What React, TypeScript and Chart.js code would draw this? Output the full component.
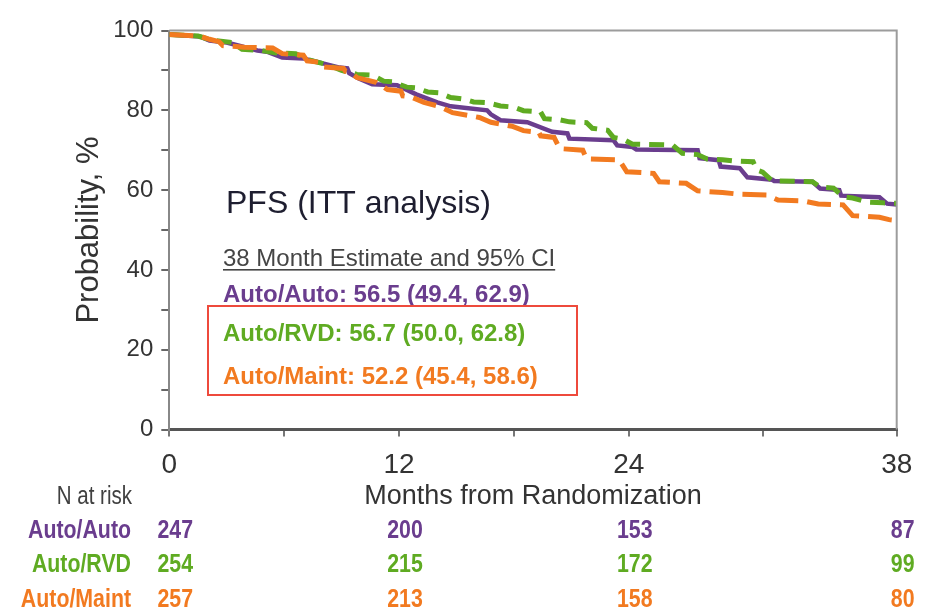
import React, { useEffect, useRef } from "react";
import { Chart, registerables } from "chart.js";

Chart.register(...registerables);

// ---- Data (start/end of each flat stretch of the curves) ----
const autoAutoMonths = [0, 1.6, 2.1, 3.0, 4.6, 5.1, 5.9, 7.0, 8.9, 9.3, 9.4, 9.9, 10.6, 11.9, 12.9, 14.0, 14.7, 16.6, 16.8, 17.3, 18.7, 20.0, 20.8, 20.9, 23.2, 23.4, 24.2, 24.4, 27.6, 27.7, 28.7, 28.8, 29.8, 30.2, 31.5, 31.6, 33.6, 34.0, 35.0, 35.1, 37.1, 37.5, 38];
const autoAutoSurv = [99, 98.5, 97.5, 97, 95, 94.7, 93.2, 93, 90.7, 90.5, 89.3, 88, 86.5, 86.3, 84, 82, 81, 80, 79, 77.5, 77, 74.6, 74.2, 72.9, 72.5, 71.2, 70.8, 70.2, 70, 68, 67.5, 65.9, 65.5, 63.2, 62.6, 62.3, 62.1, 60.4, 60, 58.6, 58.2, 56.6, 56.4];

const autoRVDMonths = [0, 1.5, 2.2, 3.3, 3.8, 4.8, 5.5, 6.6, 7.3, 8.2, 9.0, 9.8, 10.6, 11.2, 11.7, 12.4, 12.9, 13.5, 14.1, 14.7, 15.4, 15.9, 16.6, 17.3, 18.0, 18.5, 19.4, 19.6, 20.4, 20.9, 21.8, 22.1, 22.9, 23.2, 23.7, 24.2, 26.3, 26.8, 27.6, 28.1, 28.9, 29.5, 30.5, 30.7, 31.0, 31.5, 33.6, 34.0, 34.7, 35.2, 35.7, 36.5, 37.3, 38];
const autoRVDSurv = [99, 98.6, 97.6, 97, 95.3, 95, 94.4, 94.2, 92.6, 91.5, 90, 89, 88.8, 87.3, 87.1, 85.8, 85.6, 84.6, 84.4, 83.2, 82.8, 82.1, 81.9, 81.1, 80.8, 79.9, 79.6, 77.9, 77.6, 77.1, 76.9, 75.5, 75, 73.2, 72.8, 71.5, 71.3, 69.2, 68.9, 67.8, 67.6, 67.3, 67.1, 65, 64.5, 62.3, 62.1, 60.8, 60.5, 58.3, 58, 57, 56.8, 56.7];

const autoMaintMonths = [0, 1.6, 2.1, 2.6, 2.8, 3.5, 3.9, 5.4, 5.9, 7.0, 7.2, 7.9, 8.0, 9.1, 9.2, 9.5, 9.8, 10.8, 11.4, 12.1, 12.2, 12.6, 13.3, 14.1, 14.8, 16.2, 16.8, 17.9, 18.5, 19.3, 19.4, 20.1, 20.4, 21.6, 21.8, 23.5, 23.9, 25.3, 25.6, 27.0, 27.6, 28.9, 29.7, 31.2, 31.8, 33.1, 33.9, 35.2, 35.7, 37.1, 37.6, 38];
const autoMaintSurv = [99, 98.6, 97.8, 97.2, 96.2, 96, 95.8, 95.6, 94.2, 93.8, 92.4, 92, 90.9, 90.5, 89.8, 89.5, 88.2, 87, 85.2, 84.8, 83.6, 83.4, 82, 81, 79.4, 78.2, 77, 76, 74.9, 74.5, 73.6, 73.2, 70.4, 70, 67.8, 67.6, 64.6, 64.2, 62.1, 61.7, 59.8, 59.4, 59, 58.8, 57.5, 57.3, 56.5, 56.3, 53.6, 53.2, 52.6, 52.4];

const groupNames = ["Auto/Auto", "Auto/RVD", "Auto/Maint"];
const xTickValues = [0, 6, 12, 18, 24, 31, 38];
const xTickLabels = ["0", "", "12", "", "24", "", "38"];
const yLabeledTicks = [0, 20, 40, 60, 80, 100];

const riskMonths = [0, 12, 24, 38];
const riskAutoAuto = [247, 200, 153, 87];
const riskAutoRVD = [254, 215, 172, 99];
const riskAutoMaint = [257, 213, 158, 80];

const annotationTitle = "PFS (ITT analysis)";
const estimateHeader = "38 Month Estimate and 95% CI";
const estimateTexts = [
  "Auto/Auto: 56.5 (49.4, 62.9)",
  "Auto/RVD: 56.7 (50.0, 62.8)",
  "Auto/Maint: 52.2 (45.4, 58.6)",
];

// ---- Styles ----
const colors = ["#6a3d8e", "#5fab22", "#f27a20"];
const SANS = "'Liberation Sans', Arial, sans-serif";

const toPoints = (xs: number[], ys: number[]) => xs.map((x, i) => ({ x, y: ys[i] }));

function fillCondensed(ctx: CanvasRenderingContext2D, text: string, x: number, y: number, align: CanvasTextAlign, sx: number) {
  ctx.save();
  ctx.translate(x, y);
  ctx.scale(sx, 1);
  ctx.textAlign = align;
  ctx.fillText(text, 0, 0);
  ctx.restore();
}

const overlayPlugin = {
  id: "overlay",
  afterDraw(chart: any) {
    const { ctx, chartArea: ca, scales } = chart;
    const xs = scales.x;
    ctx.save();
    // frame (top and right)
    ctx.strokeStyle = "#9c9c9c";
    ctx.lineWidth = 2;
    ctx.beginPath();
    ctx.moveTo(ca.left, ca.top);
    ctx.lineTo(ca.right, ca.top);
    ctx.lineTo(ca.right, ca.bottom);
    ctx.stroke();

    // annotation title
    ctx.textBaseline = "middle";
    ctx.textAlign = "left";
    ctx.fillStyle = "#1e1e30";
    ctx.font = `32px ${SANS}`;
    ctx.fillText(annotationTitle, 226, 204);

    // estimate header (underlined)
    ctx.fillStyle = "#454545";
    ctx.font = `24px ${SANS}`;
    ctx.fillText(estimateHeader, 223, 259);
    const w = ctx.measureText(estimateHeader).width;
    ctx.fillRect(223, 269, w, 1.6);

    // estimates
    const estY = [295, 334, 377];
    ctx.font = `bold 24px ${SANS}`;
    estimateTexts.forEach((t, i) => {
      ctx.fillStyle = colors[i];
      ctx.fillText(t, 223, estY[i]);
    });

    // red box
    ctx.strokeStyle = "#ee4a3c";
    ctx.lineWidth = 2;
    ctx.strokeRect(208, 306, 369, 89);

    // at-risk table
    ctx.fillStyle = "#404040";
    ctx.font = `25px ${SANS}`;
    fillCondensed(ctx, "N at risk", 132, 497, "right", 0.82);
    const rowY = [531, 565, 600];
    const rows = [riskAutoAuto, riskAutoRVD, riskAutoMaint];
    rows.forEach((vals, r) => {
      ctx.fillStyle = colors[r];
      ctx.font = `bold 26px ${SANS}`;
      fillCondensed(ctx, groupNames[r], 131, rowY[r], "right", 0.82);
      ctx.font = `bold 26px ${SANS}`;
      vals.forEach((v, i) => {
        fillCondensed(ctx, String(v), xs.getPixelForValue(riskMonths[i]) + 6, rowY[r], "center", 0.82);
      });
    });
    ctx.restore();
  },
};

export default function App() {
  const ref = useRef<HTMLCanvasElement>(null);
  useEffect(() => {
    document.body.style.margin = "0";
    const chart = new Chart(ref.current as HTMLCanvasElement, {
      type: "line",
      data: {
        datasets: [
          {
            label: groupNames[0],
            data: toPoints(autoAutoMonths, autoAutoSurv),
            borderColor: colors[0],
            borderWidth: 4.5,
            pointRadius: 0,
            tension: 0,
            fill: false,
            order: 2,
          },
          {
            label: groupNames[1],
            data: toPoints(autoRVDMonths, autoRVDSurv),
            borderColor: colors[1],
            borderWidth: 5,
            borderDash: [15, 9],
            pointRadius: 0,
            tension: 0,
            fill: false,
            order: 1,
          },
          {
            label: groupNames[2],
            data: toPoints(autoMaintMonths, autoMaintSurv),
            borderColor: colors[2],
            borderWidth: 5,
            borderDash: [24, 9],
            pointRadius: 0,
            tension: 0,
            fill: false,
            order: 0,
          },
        ],
      },
      options: {
        responsive: false,
        animation: false,
        devicePixelRatio: 1,
        layout: { padding: { left: 0, right: 36.3, top: 30.5, bottom: 0 } },
        plugins: {
          legend: { display: false },
          tooltip: { enabled: false },
        },
        scales: {
          x: {
            type: "linear",
            min: 0,
            max: 38,
            afterBuildTicks: (s: any) => {
              s.ticks = xTickValues.map((v) => ({ value: v }));
            },
            afterFit: (s: any) => {
              s.height = 180.5;
            },
            ticks: {
              autoSkip: false,
              maxRotation: 0,
              padding: 12,
              color: "#333",
              font: { family: SANS, size: 28 },
              callback: (_v: any, i: number) => xTickLabels[i],
            },
            grid: { drawOnChartArea: false, drawTicks: true, tickLength: 7, color: "#777", lineWidth: 2 },
            border: { display: true, color: "#555", width: 3 },
            title: {
              display: true,
              text: "Months from Randomization",
              color: "#333",
              font: { family: SANS, size: 27 },
              padding: { top: 0, bottom: 97 },
            },
          },
          y: {
            min: 0,
            max: 100,
            afterFit: (s: any) => {
              s.width = 169.3;
            },
            ticks: {
              stepSize: 10,
              padding: 8,
              color: "#333",
              font: { family: SANS, size: 24 },
              callback: (v: any) => (yLabeledTicks.includes(Number(v)) ? String(v) : ""),
            },
            grid: { drawOnChartArea: false, drawTicks: true, tickLength: 8, color: "#666", lineWidth: 2 },
            border: { display: true, color: "#888", width: 2 },
            title: {
              display: true,
              text: "Probability, %",
              color: "#333",
              font: { family: SANS, size: 31 },
              padding: { top: 71, bottom: 0 },
            },
          },
        },
      },
      plugins: [overlayPlugin],
    });
    return () => chart.destroy();
  }, []);
  return (
    <div style={{ width: 933, height: 610, background: "#fff" }}>
      <canvas ref={ref} width={933} height={610} style={{ display: "block" }} />
    </div>
  );
}
